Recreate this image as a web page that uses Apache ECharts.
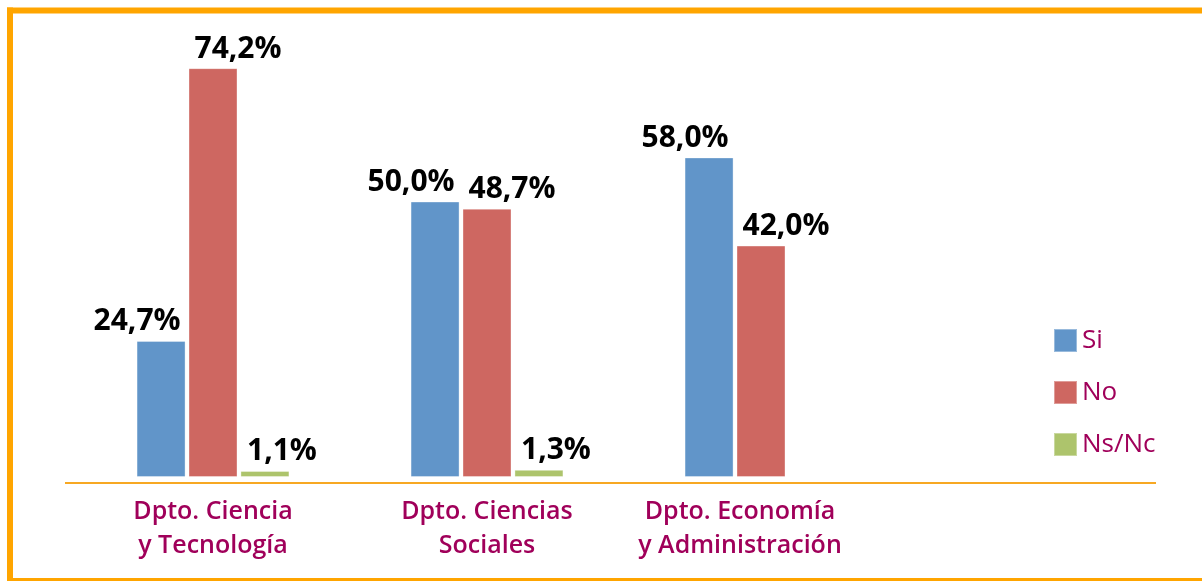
<!DOCTYPE html>
<html><head><meta charset="utf-8">
<script src="https://cdn.jsdelivr.net/npm/echarts@6/dist/echarts.min.js"></script>
<style>html,body{margin:0;padding:0;background:#fff}#c{width:1202px;height:581px}</style>
</head><body><div id="c"></div>
<script>
const categories = ['Dpto. Ciencia\ny Tecnología', 'Dpto. Ciencias\nSociales', 'Dpto. Economía\ny Administración'];
const seriesNames = ['Si', 'No', 'Ns/Nc'];
const siValues = [24.7, 50.0, 58.0];
const noValues = [74.2, 48.7, 42.0];
const nsncValues = [1.1, 1.3, null];

const colors = ['#6195C9', '#CE6761', '#ADC46C'];
const labelOffsets = [[-24, 0], [25, 0], [17, 0]];
const catPadRight = [0, 0, 42];
const fmt = p => p.value == null ? '' : p.value.toFixed(1).replace('.', ',') + '%';
const fontFam = '"Open Sans", "DejaVu Sans", sans-serif';

const chart = echarts.init(document.getElementById('c'), null, {renderer: 'canvas'});
const data = [siValues, noValues, nsncValues];
chart.setOption({
  animation: false,
  grid: {left: 76, width: 822, top: 36.2, bottom: 104},
  xAxis: {
    type: 'category',
    data: categories.map((c, i) => ({value: c, textStyle: {padding: [0, catPadRight[i], 0, 0]}})),
    axisLine: {show: false}, axisTick: {show: false},
    axisLabel: {color: '#A0005A', fontSize: 25, fontWeight: 600, fontFamily: fontFam, lineHeight: 34, margin: 18, interval: 0}
  },
  yAxis: {type: 'value', min: 0, max: 80, show: false, splitLine: {show: false}},
  legend: {
    orient: 'vertical', left: 1053, top: 327, itemWidth: 23, itemHeight: 23, itemGap: 25,
    icon: 'rect', padding: 0,
    textStyle: {color: '#A0005A', fontSize: 26, fontFamily: fontFam, lineHeight: 23, padding: [4, 0, 0, 0]},
    data: seriesNames
  },
  series: seriesNames.map((n, i) => ({
    name: n, type: 'bar', data: data[i], barWidth: 49, barGap: '6%',
    itemStyle: {color: colors[i], borderColor: 'rgba(255,255,255,0.35)', borderWidth: 1},
    label: {show: true, position: 'top', distance: 4, offset: labelOffsets[i], formatter: fmt,
      color: '#000', fontSize: 30, fontWeight: 'bold', fontFamily: fontFam}
  })),
  graphic: [
    {type: 'rect', shape: {x: 7, y: 7.5, width: 1200, height: 6}, style: {fill: '#FFA500'}, silent: true},
    {type: 'rect', shape: {x: 7, y: 7.5, width: 6, height: 580}, style: {fill: '#FFA500'}, silent: true},
    {type: 'rect', shape: {x: 7, y: 578, width: 1200, height: 3}, style: {fill: '#FFA500'}, silent: true},
    {type: 'line', shape: {x1: 65, y1: 483, x2: 1156, y2: 483}, style: {stroke: '#F7A823', lineWidth: 2}, silent: true}
  ]
});
</script></body></html>
